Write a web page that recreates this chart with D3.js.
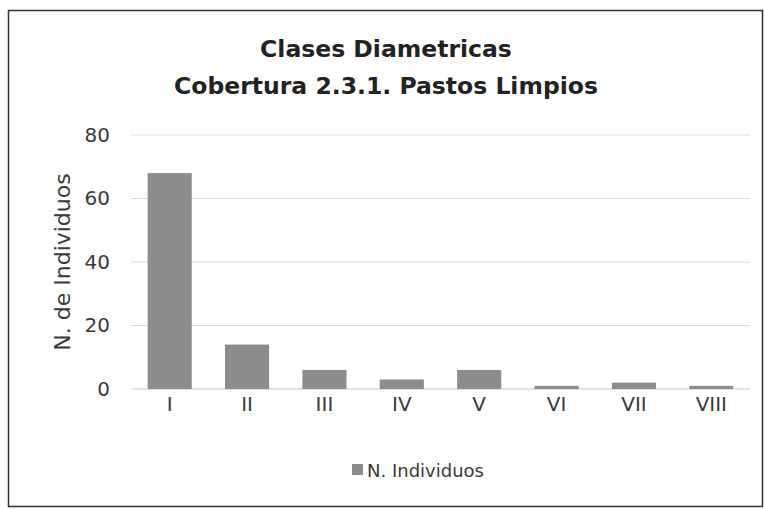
<!DOCTYPE html>
<html><head><meta charset="utf-8">
<script src="https://cdn.jsdelivr.net/npm/d3@7"></script>
<style>body{margin:0;background:#fff}svg{display:block}text{font-family:"DejaVu Sans",sans-serif}</style>
</head><body><svg id="c" width="765" height="509"></svg>
<script>
const categories = ["I","II","III","IV","V","VI","VII","VIII"];
const values = [68, 14, 6, 3, 6, 1, 2, 1];
const yTicks = [0, 20, 40, 60, 80];
const titleLines = ["Clases Diametricas", "Cobertura 2.3.1. Pastos Limpios"];
const yTitle = "N. de Individuos";
const seriesName = "N. Individuos";

const svg = d3.select("#c");
const barColor = "#8c8c8e";
const textColor = "#3a3a3a";

svg.append("rect").attr("x",8.5).attr("y",10.5).attr("width",754).attr("height",496)
  .attr("fill","#fff").attr("stroke","#333").attr("stroke-width",1.5);

const x = d3.scaleBand().domain(categories).range([131, 750]).paddingInner(0.43).paddingOuter(0.215);
const y = d3.scaleLinear().domain([0, 80]).range([389, 135]);

// gridlines
svg.append("g").selectAll("line").data(yTicks).join("line")
  .attr("x1", 131).attr("x2", 750)
  .attr("y1", d => y(d)).attr("y2", d => y(d))
  .attr("stroke", d => d === 0 ? "#c8c8c8" : "#dcdcdc").attr("stroke-width", 1);

// bars
svg.append("g").selectAll("rect").data(values).join("rect")
  .attr("x", (d,i) => x(categories[i]))
  .attr("width", x.bandwidth())
  .attr("y", d => y(d))
  .attr("height", d => y(0) - y(d))
  .attr("fill", barColor);

// y axis labels
const yAxis = d3.axisLeft(y).tickValues(yTicks).tickSize(0).tickPadding(0);
const gy = svg.append("g").attr("transform","translate(110,0)").call(yAxis);
gy.select(".domain").remove();
gy.selectAll("text").attr("font-size", 20).attr("fill", textColor).attr("font-family","DejaVu Sans, sans-serif");

// x axis labels
const xAxis = d3.axisBottom(x).tickSize(0).tickPadding(0);
const gx = svg.append("g").attr("transform","translate(0,397)").call(xAxis);
gx.select(".domain").remove();
gx.selectAll("text").attr("font-size", 20).attr("fill", textColor).attr("font-family","DejaVu Sans, sans-serif");

// title
svg.append("text").attr("x", 386).attr("text-anchor","middle").attr("fill","#222")
  .attr("font-size", 23.5).attr("font-weight", "bold")
  .selectAll("tspan").data(titleLines).join("tspan")
  .attr("x", 386).attr("y", (d,i) => 57 + i*37).text(d => d);

// y title
svg.append("text").attr("transform","translate(70,262) rotate(-90)")
  .attr("text-anchor","middle").attr("font-size",22).attr("fill",textColor).text(yTitle);

// legend
svg.append("rect").attr("x",352).attr("y",464).attr("width",11).attr("height",11).attr("fill",barColor);
svg.append("text").attr("x",367).attr("y",477).attr("font-size",18).attr("fill",textColor).text(seriesName);
</script></body></html>
